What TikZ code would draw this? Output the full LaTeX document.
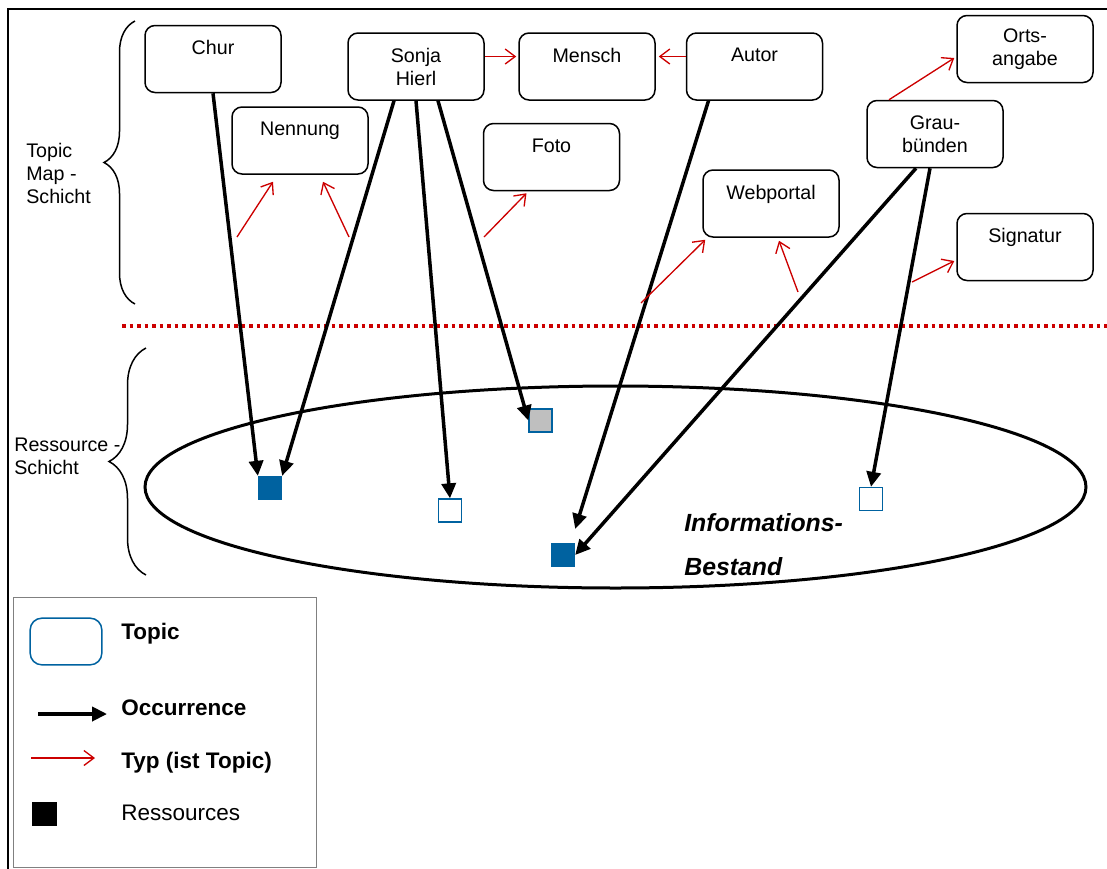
\documentclass[tikz,border=0pt]{standalone}
\usepackage{fontspec}
\setmainfont{Liberation Sans}
\usepackage{xcolor}
\usetikzlibrary{arrows.meta,calc,decorations.pathreplacing}

\definecolor{typred}{RGB}{204,0,0}
\definecolor{resblue}{RGB}{0,98,160}

\begin{document}
\begin{tikzpicture}[x=0.6pt,y=-0.6pt,
  topic/.style={draw, line width=0.9pt, rounded corners=6pt, minimum width=81.6pt,
    minimum height=40.2pt, align=center, inner sep=2pt,
    font=\fontsize{11.8}{13.8}\selectfont},
  res/.style={draw=resblue, line width=0.8pt, minimum size=13.8pt, inner sep=0pt},
  occ/.style={line width=2.1pt, -{Triangle[length=9pt,width=8.5pt]}},
  typ/.style={typred, line width=0.8pt, -{Straight Barb[length=6pt,width=9pt]}},
  layer/.style={align=left, inner sep=0pt, anchor=west,
    font=\fontsize{11.8}{13.8}\selectfont},
  legtext/.style={anchor=west, inner sep=0pt, font=\fontsize{13.5}{16}\selectfont}]
  \useasboundingbox (0,0) rectangle (1107,869);

  % Frame
  \draw[line width=1.2pt] (8,869) -- (8,9) -- (1107,9);

  % Layer braces and labels
  \draw[line width=0.9pt, decorate, decoration={brace, amplitude=18.6pt}] (135,304) -- (135,21);
  \draw[line width=0.9pt, decorate, decoration={brace, amplitude=22.2pt}] (146,575) -- (146,348);
  \node[layer] (tmlayer) at (26,173) {Topic\\Map -\\Schicht};
  \node[layer] (rslayer) at (14,456.5) {Ressource -\\Schicht};

  % Separator between the two layers
  \draw[typred, line width=2.1pt, dash pattern=on 2.1pt off 2.4pt] (122,326) -- (1107,326);

  % Topics
  \node[topic] (chur) at (213,59) {Chur\\~};
  \node[topic] (nennung) at (300,140.5) {Nennung\\~};
  \node[topic] (sonja) at (416,66.5) {Sonja\\Hierl};
  \node[topic] (mensch) at (587,66.5) {Mensch\\~};
  \node[topic] (autor) at (754.5,66.5) {Autor\\~};
  \node[topic] (foto) at (551.5,157) {Foto\\~};
  \node[topic] (webportal) at (771,203.5) {Webportal\\~};
  \node[topic] (graub) at (935,134) {Grau-\\bünden};
  \node[topic] (orts) at (1025,49) {Orts-\\angabe};
  \node[topic] (signatur) at (1025,247) {Signatur\\~};

  % Informationsbestand with resources
  \draw[line width=1.8pt] (615.5,487) ellipse (282.3pt and 60.6pt);
  \node[inner sep=0pt, anchor=west, align=left,
    font=\fontsize{14.9}{26.4}\selectfont\bfseries\itshape] (bestand) at (684,545) {Informations-\\Bestand};
  \node[res, fill=resblue] (r1) at (270,488) {};
  \node[res, fill=white] (r2) at (450,510.5) {};
  \node[res, fill=black!25] (r3) at (540.5,420.5) {};
  \node[res, fill=resblue] (r4) at (563,555) {};
  \node[res, fill=white] (r5) at (871,499) {};

  % Occurrences
  \draw[occ] (chur.south) -- (r1.north west);
  \draw[occ] ($(sonja.south)+(-22,0)$) -- (r1.north east);
  \draw[occ] (sonja.south) -- (r2.north);
  \draw[occ] ($(sonja.south)+(22,0)$) -- (r3.west);
  \draw[occ] ($(autor.south)+(-46,0)$) -- ($(r4.north east)+(0,-14)$);
  \draw[occ] ($(graub.south)+(-19,0)$) -- (r4.east);
  \draw[occ] ($(graub.south)+(-5,0)$) -- (r5.north);

  % Types
  \coordinate (t1) at (237,237);
  \coordinate (t2) at (349,237);
  \coordinate (t5) at (484,237);
  \coordinate (t6) at (641,303);
  \coordinate (t7) at (798,292);
  \coordinate (t9) at (912,282);
  \draw[typ] (t1) -- ($(nennung.south)+(-27,7)$);
  \draw[typ] (t2) -- ($(nennung.south)+(23,7)$);
  \draw[typ] ($(sonja.east)+(0,-10)$) -- ($(mensch.west)+(-2,-10)$);
  \draw[typ] ($(autor.west)+(0,-10)$) -- ($(mensch.east)+(3,-10)$);
  \draw[typ] (t5) -- ($(foto.south)+(-25,2)$);
  \draw[typ] (t6) -- ($(webportal.south west)+(3,2)$);
  \draw[typ] (t7) -- ($(webportal.south)+(8,3)$);
  \draw[typ] ($(graub.north)+(-46,0)$) -- ($(orts.west)+(-2,9)$);
  \draw[typ] (t9) -- ($(signatur.west)+(-2,14)$);

  % Legend
  \draw[black!50, line width=0.6pt] (13,597) rectangle (316,867);
  \node[draw=resblue, line width=0.9pt, rounded corners=7pt, minimum width=43pt,
    minimum height=28pt] (legtopic) at (66,641.5) {};
  \node[legtext, font=\fontsize{13.5}{16}\selectfont\bfseries] (legtopiclabel) at (121,634) {Topic};
  \coordinate (occa) at (38,714);
  \coordinate (occb) at (107,714);
  \draw[occ] (occa) -- (occb);
  \node[legtext, font=\fontsize{13.5}{16}\selectfont\bfseries] (legocclabel) at (121,708) {Occurrence};
  \coordinate (typa) at (31,758);
  \coordinate (typb) at (95,758);
  \draw[typ] (typa) -- (typb);
  \node[legtext, font=\fontsize{13.5}{16}\selectfont\bfseries] (legtyplabel) at (121,763) {Typ (ist Topic)};
  \node[fill=black, minimum width=15pt, minimum height=14.4pt, inner sep=0pt] (legres) at (44.5,814) {};
  \node[legtext] (legreslabel) at (121,813) {Ressources};
\end{tikzpicture}
\end{document}
